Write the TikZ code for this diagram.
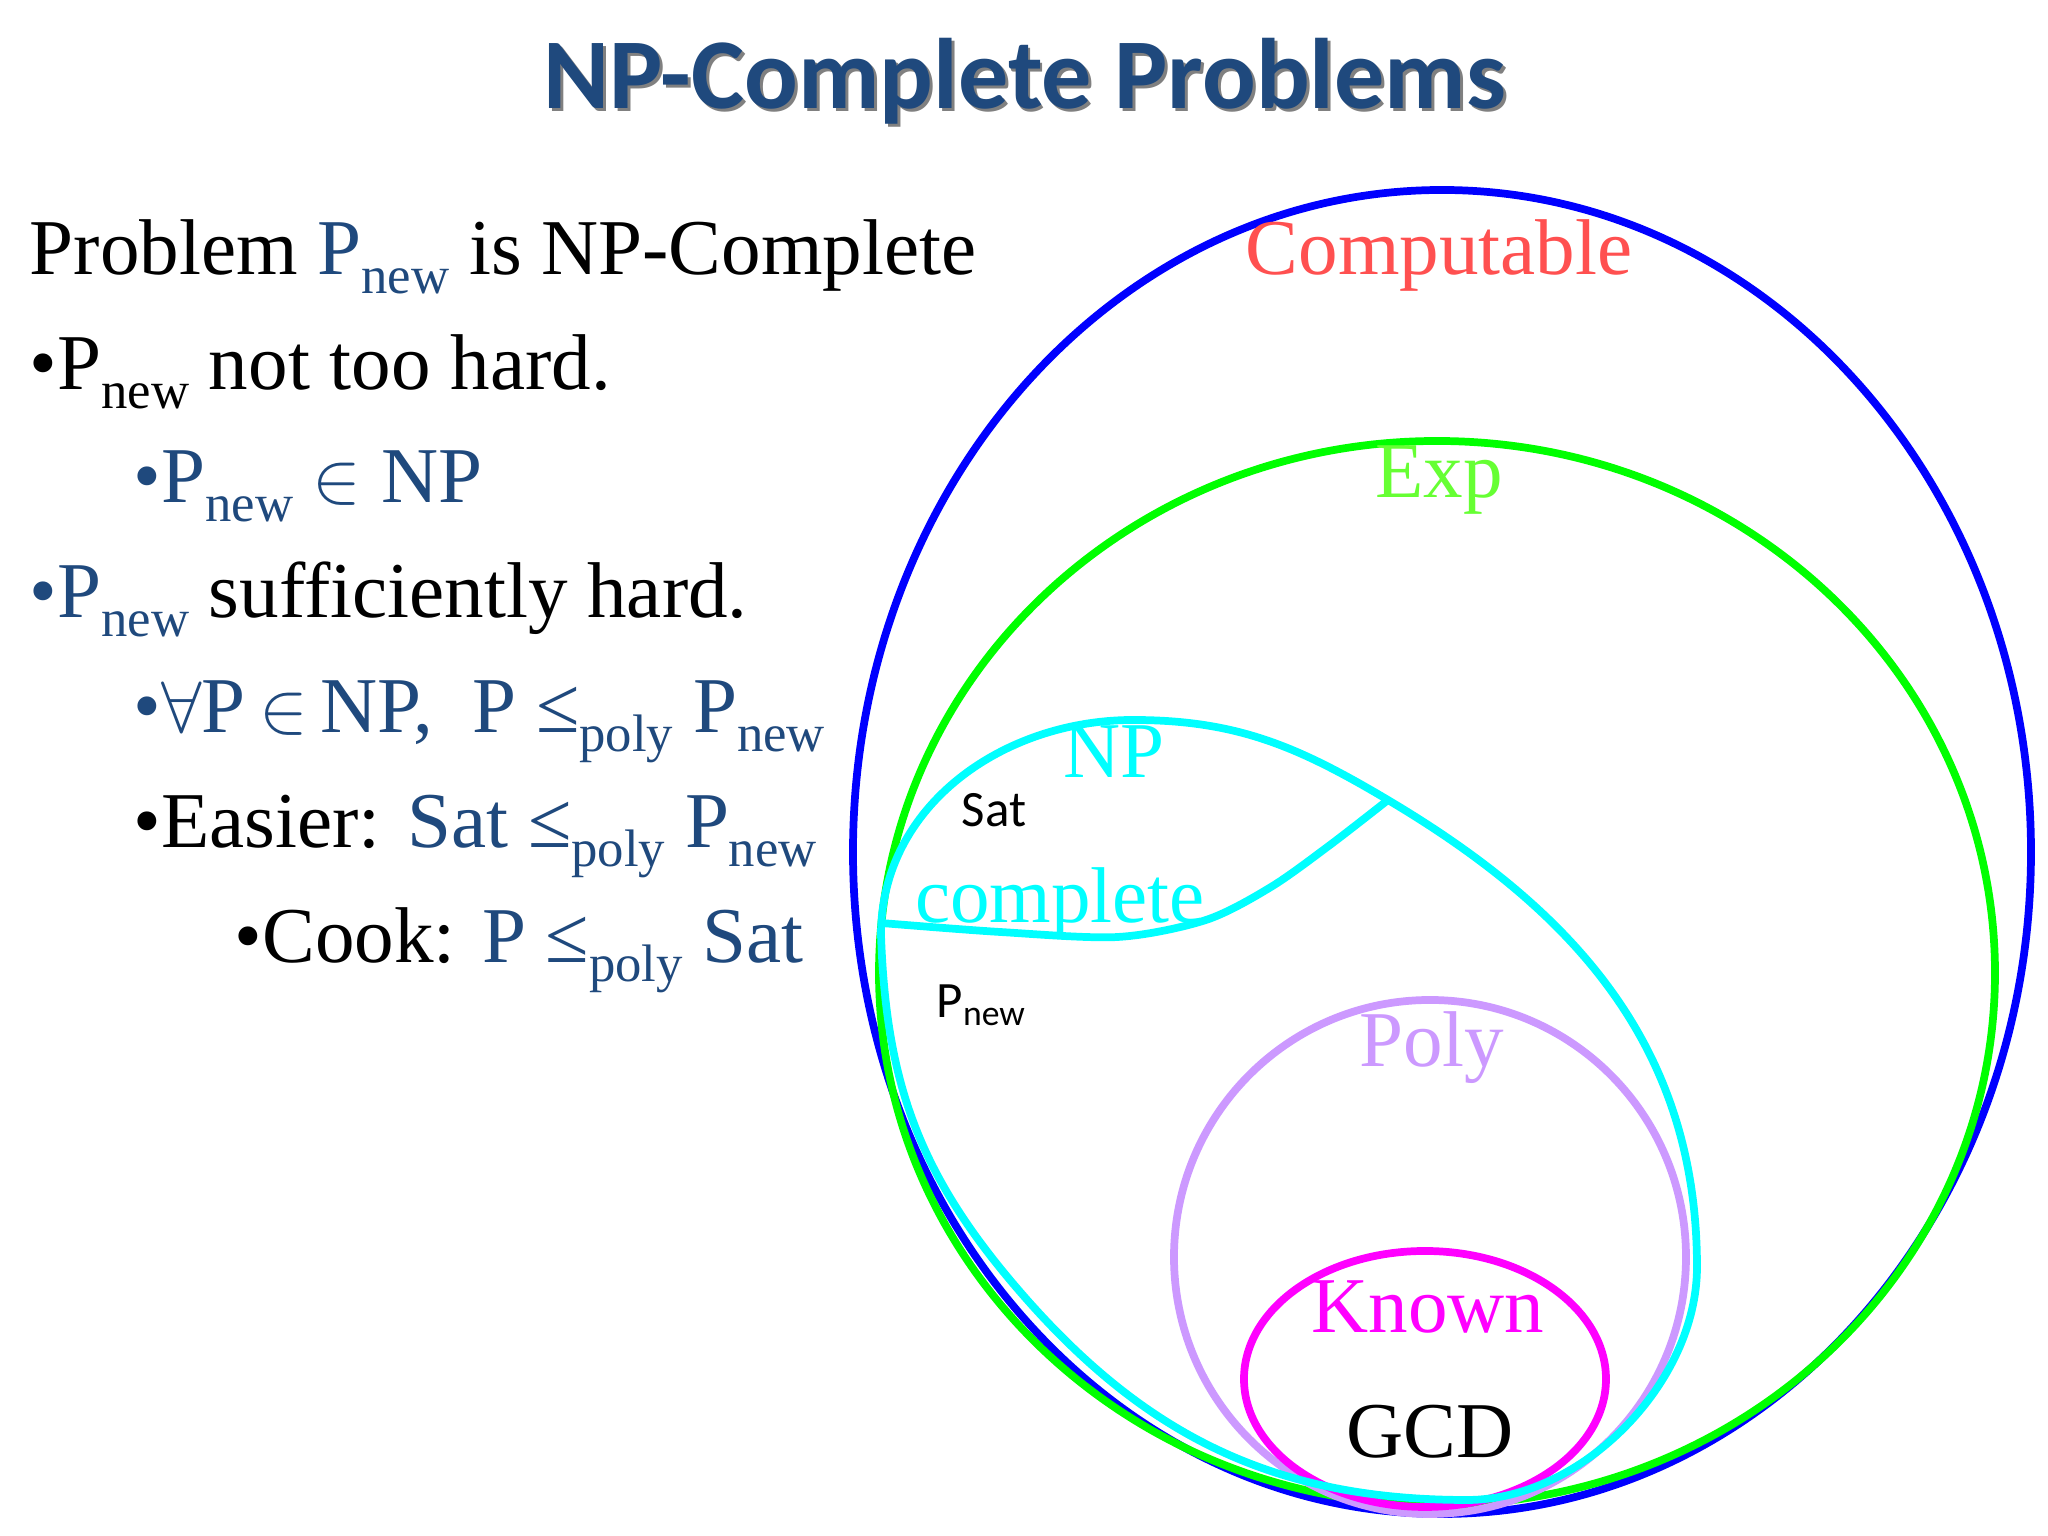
\documentclass[tikz,border=0pt]{standalone}
\usepackage{fontspec}
\setmainfont{Liberation Serif}
\newfontfamily\calibfont{Carlito}
\usepackage{tikz}
\usetikzlibrary{positioning}
\definecolor{TxtBlue}{HTML}{1F497D}
\definecolor{SetBlue}{HTML}{0000FF}
\definecolor{SetGreen}{HTML}{00FF00}
\definecolor{ExpGreen}{HTML}{66FF33}
\definecolor{SetCyan}{HTML}{00FFFF}
\definecolor{SetLilac}{HTML}{CC99FF}
\definecolor{SetMagenta}{HTML}{FF00FF}
\definecolor{CompRed}{HTML}{FF5050}
\newcommand{\lowsub}[1]{\raisebox{-0.24em}{\fontsize{15}{15}\selectfont #1}}

\begin{document}
\begin{tikzpicture}[
    set/.style={line width=2.2pt},
    body/.style={font=\fontsize{22.5}{27}\selectfont, anchor=base west, inner sep=0pt},
    setlbl/.style={font=\fontsize{22.5}{27}\selectfont, anchor=base, inner sep=0pt},
    tag/.style={font=\calibfont\fontsize{14.5}{17}\selectfont, anchor=base, inner sep=0pt}]
    \useasboundingbox[fill=white] (0,0) rectangle (20.48,15.36);

    % Title
    \node[font=\calibfont\bfseries\fontsize{28.5}{32}\selectfont, black!50] (titleshadow) at (10.28,14.52) {NP-Complete Problems};
    \node[font=\calibfont\bfseries\fontsize{28.5}{32}\selectfont, TxtBlue] (title) at (10.25,14.55) {NP-Complete Problems};

    % Left column
    \node[body] (l1) at (0.29,12.61) {Problem \textcolor{TxtBlue}{P\lowsub{new}} is NP-Complete};
    \node[body] (l2) at (0.29,11.46) {•P\lowsub{new} not too hard.};
    \node[body, TxtBlue] (l3) at (1.33,10.33) {•P\lowsub{new} $\in$ NP};
    \node[body] (l4) at (0.29,9.18) {\textcolor{TxtBlue}{•P\lowsub{new}} sufficiently hard.};
    \node[body, TxtBlue] (l5) at (1.33,8.03) {•$\forall$P\,$\in$\,NP,~~P ≤\lowsub{poly} P\lowsub{new}};
    \node[body] (l6) at (1.33,6.88) {•Easier: \textcolor{TxtBlue}{Sat ≤\lowsub{poly} P\lowsub{new}}};
    \node[body] (l7) at (2.34,5.73) {•Cook: \textcolor{TxtBlue}{P ≤\lowsub{poly} Sat}};

    % Computable and Exp
    \draw[set, SetBlue] (14.42,6.84) ellipse [x radius=5.89, y radius=6.62];
    \draw[set, SetGreen] (14.37,5.63) ellipse [x radius=5.58, y radius=5.32];

    % Poly and Known
    \draw[set, SetLilac] (14.30,2.79) ellipse [x radius=2.56, y radius=2.57];
    \draw[set, SetMagenta] (14.25,1.57) ellipse [x radius=1.81, y radius=1.28];

    % NP region
    \coordinate (npl) at (8.81,6.13);
    \coordinate (npr) at (13.88,7.36);
    \draw[set, SetCyan] (8.81,6.01) to[out=-88, in=130] (10.10,2.56)
        to[out=-50, in=180] (14.67,0.36)
        to[out=0, in=-90, looseness=0.9] (16.97,2.69)
        to[out=90, in=-30.7] (npr)
        to[out=149.3, in=0] (11.33,8.16)
        to[out=180, in=90] cycle;

    % NP-complete border
    \draw[set, SetCyan] plot[smooth] coordinates {
        (npl) (10.00,6.04) (11.18,5.99) (12.06,6.16) (12.71,6.49) (13.30,6.91) (npr)};

    % Set labels
    \node[setlbl, CompRed] (computable) at (14.39,12.61) {Computable};
    \node[setlbl, ExpGreen] (exp) at (14.39,10.38) {Exp};
    \node[setlbl, SetCyan] (np) at (11.14,7.58) {NP};
    \node[setlbl, SetCyan] (complete) at (10.60,6.13) {complete};
    \node[setlbl, SetLilac] (poly) at (14.32,4.69) {Poly};
    \node[setlbl, SetMagenta] (known) at (14.28,2.03) {Known};
    \node[setlbl] (gcd) at (14.30,0.78) {GCD};

    % Problems
    \node[tag] (sat) at (9.94,7.09) {Sat};
    \node[tag, anchor=base west] (pnew) at (9.36,5.18) {P\textsubscript{new}};

\end{tikzpicture}
\end{document}
